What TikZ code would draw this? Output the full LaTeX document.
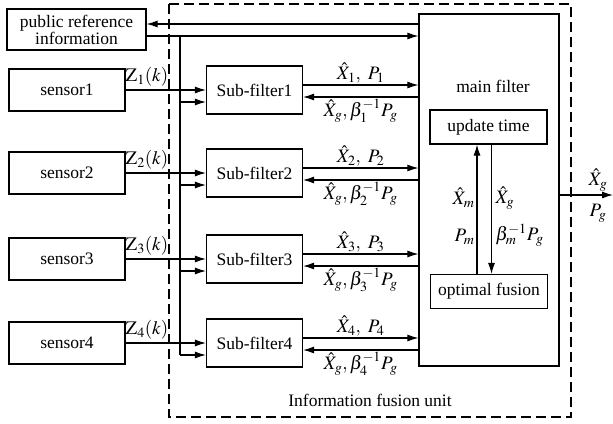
\documentclass[tikz,border=0pt]{standalone}
\usepackage{mathptmx}
\usepackage{fontspec}
\setmainfont{Liberation Serif}
\usetikzlibrary{arrows.meta}

\begin{document}
\begin{tikzpicture}[x=1pt,y=-1pt,>={Latex[length=11pt,width=7pt]},line width=1.1pt,
  font=\fontsize{17.5}{20}\selectfont,
  block/.style={draw,line width=1.2pt,inner sep=0pt,align=center},
  sensor box/.style={block,minimum width=116pt,minimum height=42pt},
  sub box/.style={block,minimum width=96pt,minimum height=48pt},
  inner box/.style={block,minimum width=117pt,minimum height=34pt},
  mathlbl/.style={font=\fontsize{19}{21}\selectfont}]

    \useasboundingbox (0,0) rectangle (613,423);

    % fusion unit frame
    \draw[dash pattern=on 10pt off 5pt,line width=1.2pt] (169,4) rectangle (571,417);
    \node (unit) at (370,400) {Information fusion unit};

    \node[block,minimum width=139pt,minimum height=41pt] (pub) at (76.5,29.5) {public reference\\[-3pt]information};
    \node[block,minimum width=140pt,minimum height=352pt] (main) at (489,190) {};
    \node (mainlbl) at (493,86) {main filter};
    \node[inner box] (upd) at (488.5,127) {update time};
    \node[inner box] (opt) at (489,291.5) {optimal fusion};

    \foreach \i/\y in {1/90,2/173,3/259,4/343} {
        \node[sensor box] (s\i) at (67,\y) {sensor\i};
        \node[sub box] (f\i) at (254.5,\y) {Sub-filter\i};
        \node[mathlbl,anchor=south,inner sep=1pt] (z\i) at (147,\y-2) {$\mathrm{Z}_{\i}(k)$};
        \coordinate (b\i) at (180,\y+12);

        \draw[->] (s\i.east) -- (s\i.east -| f\i.west);
        \draw[->] (b\i) -- (b\i -| f\i.west);
        \draw[->] ([yshift=5pt]f\i.east) -- ([yshift=5pt]f\i.east -| main.west)
            node[mathlbl,midway,above,inner sep=1.5pt,name=up\i] {$\hat{X}_{\i},\ P_{\i}$};
        \draw[->] ([yshift=-7pt]f\i.east -| main.west) -- ([yshift=-7pt]f\i.east)
            node[mathlbl,midway,below,inner sep=1.5pt,name=dn\i] {$\hat{X}_g,\beta_{\i}^{-1}P_g$};
    }

    % public reference information
    \draw[->] ([yshift=5.5pt]pub.east -| main.west) -- ([yshift=5.5pt]pub.east);
    \draw[->] ([yshift=-6.5pt]pub.east) -- ([yshift=-6.5pt]pub.east -| main.west);
    \draw ([yshift=-6.5pt]pub.east -| b1) -- (b4);

    % inside main filter
    \draw[->] ([xshift=-12pt]opt.north) -- ([xshift=-12pt]opt.north |- upd.south);
    \draw[->] ([xshift=3pt]upd.south) -- ([xshift=3pt]upd.south |- opt.north);
    \node[mathlbl,anchor=east,inner sep=1pt] (xm) at (476,198) {$\hat{X}_m$};
    \node[mathlbl,anchor=east,inner sep=1pt] (pm) at (476,237) {$P_m$};
    \node[mathlbl,anchor=west,inner sep=1pt] (xg) at (494,198) {$\hat{X}_g$};
    \node[mathlbl,anchor=west,inner sep=1pt] (bm) at (494,235) {$\beta_m^{-1}P_g$};

    % output
    \coordinate (out) at (613,195);
    \draw[->] (main.east |- out) -- (out);
    \node[mathlbl] (outx) at (598,180) {$\hat{X}_g$};
    \node[mathlbl] (outp) at (598,213) {$P_g$};

\end{tikzpicture}
\end{document}
